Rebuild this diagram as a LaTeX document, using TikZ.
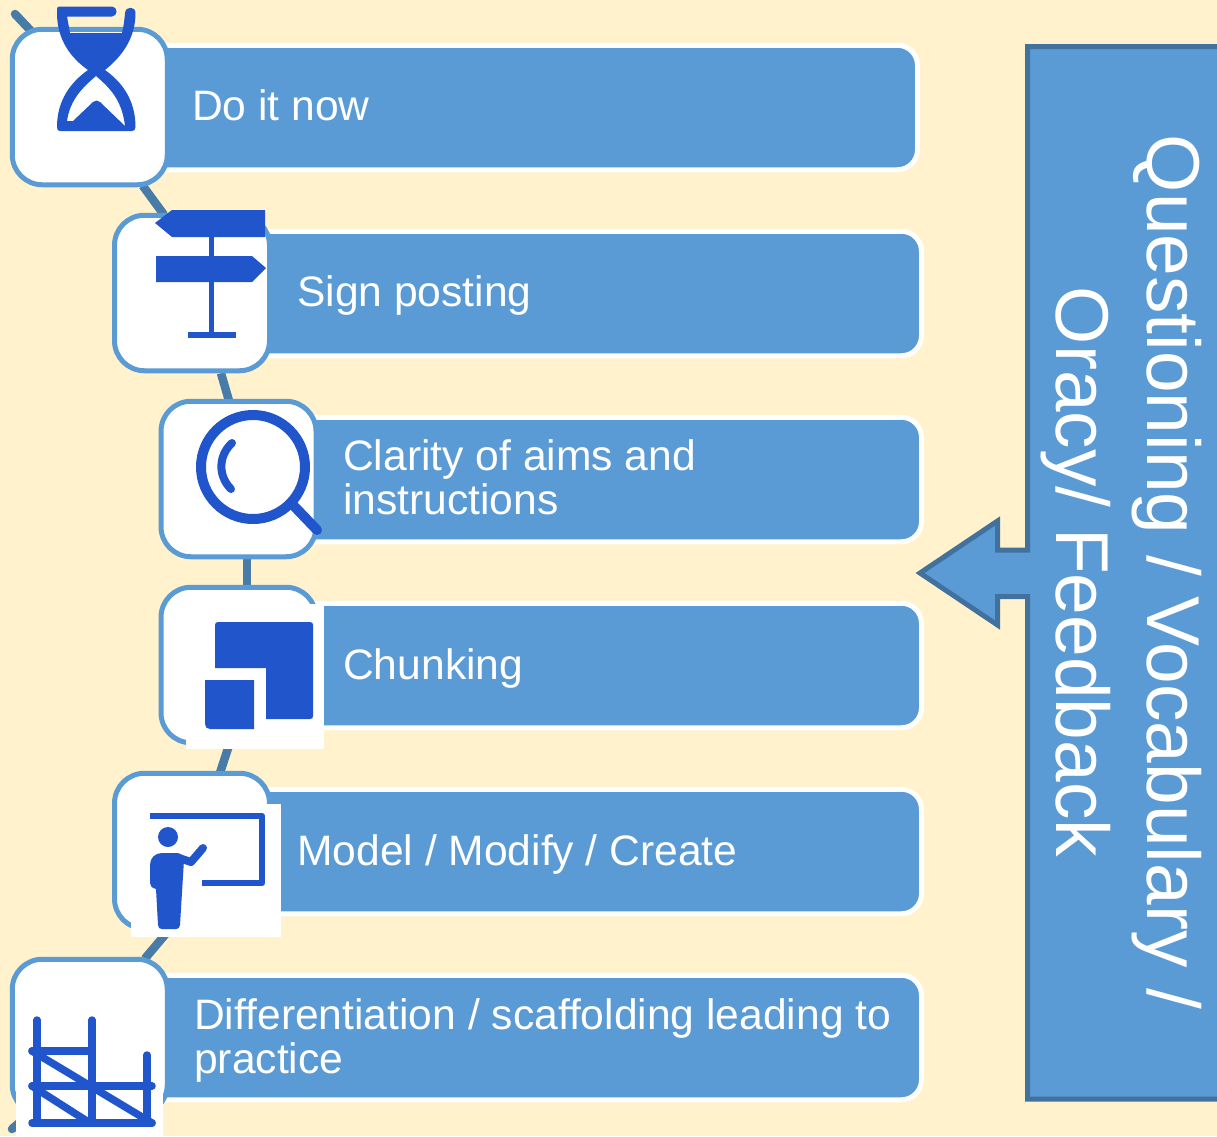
\documentclass[tikz,border=0pt]{standalone}
\usepackage{fontspec}
\setmainfont{Liberation Sans}
\usetikzlibrary{backgrounds}
\definecolor{bgc}{HTML}{FFF2CC}
\definecolor{barc}{HTML}{5B9BD5}
\definecolor{edgec}{HTML}{41719C}
\definecolor{linkc}{HTML}{487BA8}
\definecolor{iconc}{HTML}{2155CC}
\tikzset{
  bar/.style={rectangle,rounded corners=20pt,fill=barc,draw=white,line width=5pt,inner sep=0pt,minimum height=124.5pt},
  iconbox/.style={rectangle,rounded corners=30pt,fill=white,draw=barc,line width=5pt,inner sep=0pt,minimum width=155pt,minimum height=155.5pt},
  link/.style={draw=linkc,line width=8.5pt},
  label/.style={text=white,inner sep=0pt,anchor=base west,align=left,font=\fontsize{42.6}{44.5}\selectfont},
  patch/.style={fill=white,draw=none},
  solid icon/.style={fill=iconc,draw=none},
  line icon/.style={draw=iconc,fill=none},
}
\begin{document}
\begin{tikzpicture}[x=1pt,y=-1pt]
\useasboundingbox (0,0) rectangle (1217,1136);
\begin{pgfonlayer}{background}
\fill[bgc] (0,0) rectangle (1217,1136);
\end{pgfonlayer}
% bars
\node[bar,minimum width=779pt] (bar1) at (528,107.5) {};
\node[bar,minimum width=683pt] (bar2) at (580,293.5) {};
\node[bar,minimum width=633pt] (bar3) at (605,479.5) {};
\node[bar,minimum width=633pt] (bar4) at (605,665.5) {};
\node[bar,minimum width=683pt] (bar5) at (580,851.5) {};
\node[bar,minimum width=783pt] (bar6) at (530,1037.5) {};
% icon boxes
\node[iconbox] (box1) at (89.75,107) {};
\node[iconbox] (box2) at (192,293) {};
\node[iconbox] (box3) at (238.5,479) {};
\node[iconbox] (box4) at (238.5,665) {};
\node[iconbox] (box5) at (192,851) {};
\node[iconbox] (box6) at (89.75,1037) {};
% connectors, behind everything
\coordinate (topend) at (15,14);
\coordinate (bottomend) at (12,1129);
\begin{pgfonlayer}{background}
\draw[link,line cap=round] (topend) -- ([xshift=22pt,yshift=-5pt]box1.north west);
\draw[link] ([xshift=53pt,yshift=1.5pt]box1.south) -- ([xshift=-28pt,yshift=-2pt]box2.north);
\draw[link] ([xshift=29pt]box2.south) -- ([xshift=-9.5pt,yshift=-2pt]box3.north);
\draw[link] ([xshift=8.5pt]box3.south) -- ([xshift=8.5pt]box4.north);
\draw[link] ([xshift=-9.5pt]box4.south) -- ([xshift=28pt,yshift=-2pt]box5.north);
\draw[link] ([xshift=-24pt]box5.south) -- ([xshift=55pt,yshift=-2pt]box6.north);
\draw[link,line cap=round] ([xshift=-57pt,yshift=6pt]box6.south) -- (bottomend);
\end{pgfonlayer}
% white picture backgrounds of the lower icons
\fill[patch] (186,604) rectangle (324,749);
\fill[patch] (131,804) rectangle (281,937);
\fill[patch] (16,1000) rectangle (163,1136);
% hourglass
\fill[solid icon,even odd rule]
  (59,6.5) -- (112,6.5) .. controls (118,6.5) and (118,16.5) .. (112,16.5) -- (67,16.5) -- (70,33) -- (122,33)
  .. controls (123.5,27) and (124.5,20) .. (125,13) .. controls (125.5,6) and (135.5,6) .. (135.5,13)
  .. controls (135.5,40) and (120,58) .. (105,70) .. controls (122,82) and (135.5,100) .. (135.5,127)
  .. controls (135.5,130) and (134,131) .. (132,131) -- (60,131) .. controls (58,131) and (57,130) .. (57,127)
  .. controls (57,100) and (71,82) .. (88,70) .. controls (71,58) and (57,40) .. (57,13) -- (57,9) .. controls (57,7.5) and (58,6.5) .. (59,6.5) -- cycle
  (96,76) .. controls (110,88) and (122,100) .. (125,126) -- (100,102) .. controls (98,100) and (95,100) .. (93,102) -- (73,121) -- (67,121) .. controls (70,100) and (82,88) .. (96,76) -- cycle;
% signpost
\fill[solid icon] (209,237) rectangle (214,333);
\fill[solid icon] (155,223) -- (172,210) -- (265,210) -- (265,237) -- (172,237) -- cycle;
\fill[solid icon] (156,256) -- (252,256) -- (266,268) -- (252,282) -- (156,282) -- cycle;
\fill[solid icon] (188,332) rectangle (236,338);
% magnifier
\draw[line icon,line width=10pt] (253,467) circle (52);
\draw[line icon,line width=10pt,line cap=round] (293,505) -- (317,530);
\draw[line icon,line width=8pt,line cap=round] (232,443) .. controls (218,456) and (218,476) .. (231,489);
% chunking
\fill[solid icon] (218,622) -- (310,622) .. controls (312,622) and (313,623) .. (313,625) -- (313,716) .. controls (313,718) and (312,719) .. (310,719) -- (266,719) -- (266,668) -- (215,668) -- (215,625) .. controls (215,623) and (216,622) .. (218,622) -- cycle;
\fill[solid icon] (205,680) -- (254,680) -- (254,729) -- (210,729) .. controls (207,729) and (205,727) .. (205,724) -- cycle;
% teacher
\draw[line icon,line width=6.5pt,line join=round] (150,816) -- (262,816) -- (262,883) -- (202,883);
\fill[solid icon] (168,837) circle (10);
\draw[line icon,line width=8pt,line cap=round,line join=round] (176,857) -- (191,862) -- (203,848);
\fill[solid icon] (162,853) -- (176,853) .. controls (180,853) and (184,855) .. (184,860) -- (180,925) .. controls (180,928) and (178,929) .. (176,929) -- (162,929) .. controls (160,929) and (158,928) .. (158,925) -- (156,889) .. controls (152,888) and (150,886) .. (150,883) -- (150,865) .. controls (150,858) and (155,853) .. (162,853) -- cycle;
% scaffold
\begin{scope}[line icon,line width=7.5pt,line cap=round]
\draw (37,1020) -- (37,1123);
\draw (92,1020) -- (92,1123);
\draw (147,1055) -- (147,1123);
\draw (32,1051) -- (92,1051);
\draw (32,1086) -- (152,1086);
\draw (32,1123) -- (152,1123);
\draw (32,1051) -- (152,1123);
\draw (32,1086) -- (90,1123);
\end{scope}
% labels
\node[label] (t1) at (192,120) {Do it now};
\node[label] (t2) at (297,306) {Sign posting};
\node[label,anchor=north west] (t3) at (343,439) {Clarity of aims and\\instructions};
\node[label] (t4) at (343,679) {Chunking};
\node[label] (t5) at (297,865) {Model / Modify / Create};
\node[label,anchor=north west] (t6) at (194,998) {Differentiation / scaffolding leading to\\practice};
% callout
\begin{scope}
\clip (0,0) rectangle (1217,1136);
\draw[edgec,fill=barc,line width=5pt,miter limit=10]
  (1240,46.5) -- (1027.5,46.5) -- (1027.5,550) -- (997.5,550) -- (997.5,521) -- (920,573) -- (997.5,625) -- (997.5,596.5) -- (1027.5,596.5) -- (1027.5,1099) -- (1240,1099) -- cycle;
\end{scope}
\node[text=white,inner sep=0pt,align=center,rotate=-90,font=\fontsize{74.9}{91}\selectfont] (side) at (1121,572) {Questioning / Vocabulary /\\Oracy/ Feedback};
\end{tikzpicture}
\end{document}
